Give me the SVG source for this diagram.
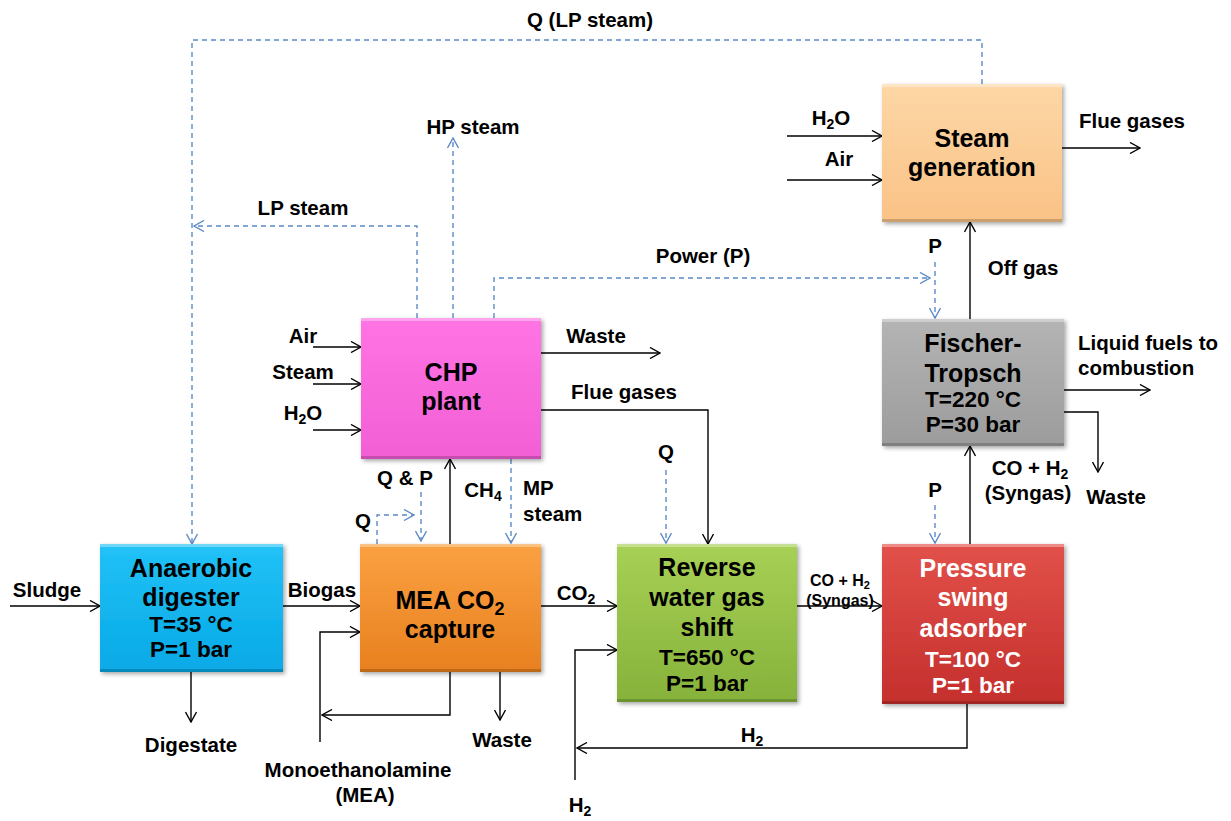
<svg xmlns="http://www.w3.org/2000/svg" width="1231" height="821" viewBox="0 0 1231 821">
<defs>
<style>
.t{font-family:"Liberation Sans",Arial,sans-serif;font-weight:bold;fill:#000;text-anchor:middle}
.bt{font-size:25px}
.pt{font-size:22.5px}
.lb{font-size:20.5px}
.sm{font-size:16px}
.w{fill:#fff}
.c{fill:none;stroke:#000;stroke-width:1.4;marker-end:url(#ah)}
.d{fill:none;stroke:#5b8ac6;stroke-width:1.4;stroke-dasharray:5 4;marker-end:url(#ahb)}
.hl{fill:#fff;opacity:0.35}
.dk{fill:#000;opacity:0.18}
</style>
<marker id="ah" markerUnits="userSpaceOnUse" viewBox="0 0 12 12" refX="11" refY="6" markerWidth="12" markerHeight="12" orient="auto">
<path d="M1,0.5 L11,6 L1,11.5" fill="none" stroke="#000" stroke-width="1.4"/>
</marker>
<marker id="ahb" markerUnits="userSpaceOnUse" viewBox="0 0 12 12" refX="11" refY="6" markerWidth="12" markerHeight="12" orient="auto">
<path d="M1,0.5 L11,6 L1,11.5" fill="none" stroke="#5b8ac6" stroke-width="1.4"/>
</marker>
<filter id="sh" x="-10%" y="-10%" width="125%" height="125%">
<feDropShadow dx="2" dy="2" stdDeviation="2" flood-color="#000" flood-opacity="0.35"/>
</filter>
<linearGradient id="gBlue" x1="0" y1="0" x2="0" y2="1"><stop offset="0" stop-color="#22c2f7"/><stop offset="1" stop-color="#06a9e6"/></linearGradient>
<linearGradient id="gOrange" x1="0" y1="0" x2="0" y2="1"><stop offset="0" stop-color="#fba142"/><stop offset="1" stop-color="#e8801f"/></linearGradient>
<linearGradient id="gGreen" x1="0" y1="0" x2="0" y2="1"><stop offset="0" stop-color="#a7d055"/><stop offset="1" stop-color="#86b23b"/></linearGradient>
<linearGradient id="gRed" x1="0" y1="0" x2="0" y2="1"><stop offset="0" stop-color="#e2514a"/><stop offset="1" stop-color="#c42f2c"/></linearGradient>
<linearGradient id="gGrey" x1="0" y1="0" x2="0" y2="1"><stop offset="0" stop-color="#b4b4b4"/><stop offset="1" stop-color="#9c9c9c"/></linearGradient>
<linearGradient id="gPeach" x1="0" y1="0" x2="0" y2="1"><stop offset="0" stop-color="#fdd7a6"/><stop offset="1" stop-color="#fac286"/></linearGradient>
<linearGradient id="gPink" x1="0" y1="0" x2="0" y2="1"><stop offset="0" stop-color="#ff74e4"/><stop offset="1" stop-color="#f25fd5"/></linearGradient>
</defs>

<g id="connectors">
<path class="d" d="M982,84 V40 H192 V544"/>
<path class="d" d="M417,318 V226 H194"/>
<path class="d" d="M453,318 V138"/>
<path class="d" d="M494,318 V278 H930"/>
<path class="d" d="M935,262 V318"/>
<path class="d" d="M421,492 V541"/>
<path class="d" d="M377,544 V515 H414"/>
<path class="d" d="M511,459 V543"/>
<path class="d" d="M666,470 V543"/>
<path class="d" d="M935,505 V543"/>
<path class="c" d="M10,606 H100"/>
<path class="c" d="M283,606 H360"/>
<path class="c" d="M541,606 H617"/>
<path class="c" d="M797,606 H882"/>
<path class="c" d="M320,742 V632 H360"/>
<path class="c" d="M450,672 V715 H322"/>
<path class="c" d="M500,672 V720"/>
<path class="c" d="M191,672 V722"/>
<path class="c" d="M575,780 V650 H617"/>
<path class="c" d="M967,704 V748 H577"/>
<path class="c" d="M970,544 V446"/>
<path class="c" d="M970,319 V222"/>
<path class="c" d="M1064,390 H1150"/>
<path class="c" d="M1064,412 H1098 V472"/>
<path class="c" d="M787,136 H882"/>
<path class="c" d="M787,180 H882"/>
<path class="c" d="M1062,148 H1140"/>
<path class="c" d="M313,347 H361"/>
<path class="c" d="M313,384 H361"/>
<path class="c" d="M313,430 H361"/>
<path class="c" d="M541,353 H660"/>
<path class="c" d="M541,410 H708 V544"/>
<path class="c" d="M450,544 V459"/>
</g>

<g id="labels">
<text class="t lb" x="590" y="27">Q (LP steam)</text>
<text class="t lb" x="473" y="134">HP steam</text>
<text class="t lb" x="303" y="215">LP steam</text>
<text class="t lb" x="703" y="263">Power (P)</text>
<text class="t lb" x="935" y="253">P</text>
<text class="t lb" x="1023" y="275">Off gas</text>
<text class="t lb" x="831" y="125">H<tspan font-size="14" dy="4">2</tspan><tspan dy="-4">O</tspan></text>
<text class="t lb" x="839" y="166">Air</text>
<text class="t lb" x="1132" y="128">Flue gases</text>
<text class="t lb" x="303" y="343">Air</text>
<text class="t lb" x="303" y="379">Steam</text>
<text class="t lb" x="303" y="420">H<tspan font-size="14" dy="4">2</tspan><tspan dy="-4">O</tspan></text>
<text class="t lb" x="596" y="343">Waste</text>
<text class="t lb" x="624" y="399">Flue gases</text>
<text class="t lb" x="1078" y="350" style="text-anchor:start">Liquid fuels to</text>
<text class="t lb" x="1078" y="375" style="text-anchor:start">combustion</text>
<text class="t lb" x="666" y="459">Q</text>
<text class="t lb" x="405" y="485">Q &amp; P</text>
<text class="t lb" x="483" y="497">CH<tspan font-size="14" dy="4">4</tspan></text>
<text class="t lb" x="523" y="495" style="text-anchor:start">MP</text>
<text class="t lb" x="523" y="521" style="text-anchor:start">steam</text>
<text class="t lb" x="363" y="528">Q</text>
<text class="t lb" x="1030" y="475">CO + H<tspan font-size="14" dy="4">2</tspan></text>
<text class="t lb" x="1028" y="500">(Syngas)</text>
<text class="t lb" x="1116" y="504">Waste</text>
<text class="t lb" x="935" y="497">P</text>
<text class="t lb" x="47" y="597">Sludge</text>
<text class="t lb" x="322" y="597">Biogas</text>
<text class="t lb" x="576" y="600">CO<tspan font-size="14" dy="4">2</tspan></text>
<text class="t sm" x="840" y="586">CO + H<tspan font-size="11" dy="3">2</tspan></text>
<text class="t sm" x="840" y="606">(Syngas)</text>
<text class="t lb" x="191" y="752">Digestate</text>
<text class="t lb" x="502" y="747">Waste</text>
<text class="t lb" x="358" y="777">Monoethanolamine</text>
<text class="t lb" x="365" y="802">(MEA)</text>
<text class="t lb" x="752" y="742">H<tspan font-size="14" dy="4">2</tspan></text>
<text class="t lb" x="580" y="812">H<tspan font-size="14" dy="4">2</tspan></text>
</g>

<g id="digester">
<rect x="100" y="544" width="183" height="128" fill="url(#gBlue)" filter="url(#sh)"/>
<rect class="hl" x="100" y="544" width="183" height="3"/>
<rect class="dk" x="100" y="669" width="183" height="3"/>
<text class="t bt" x="191" y="577">Anaerobic</text>
<text class="t bt" x="191" y="606">digester</text>
<text class="t pt" x="191" y="632">T=35 °C</text>
<text class="t pt" x="191" y="657">P=1 bar</text>
</g>

<g id="mea">
<rect x="360" y="544" width="181" height="128" fill="url(#gOrange)" filter="url(#sh)"/>
<rect class="hl" x="360" y="544" width="181" height="3"/>
<rect class="dk" x="360" y="669" width="181" height="3"/>
<text class="t bt" x="450" y="609">MEA CO<tspan font-size="18" dy="6">2</tspan></text>
<text class="t bt" x="450" y="638">capture</text>
</g>

<g id="rwgs">
<rect x="617" y="544" width="180" height="158" fill="url(#gGreen)" filter="url(#sh)"/>
<rect class="hl" x="617" y="544" width="180" height="3"/>
<rect class="dk" x="617" y="699" width="180" height="3"/>
<text class="t bt" x="707" y="576">Reverse</text>
<text class="t bt" x="707" y="606">water gas</text>
<text class="t bt" x="707" y="636">shift</text>
<text class="t pt" x="707" y="665">T=650 °C</text>
<text class="t pt" x="707" y="691">P=1 bar</text>
</g>

<g id="psa">
<rect x="882" y="544" width="182" height="160" fill="url(#gRed)" filter="url(#sh)"/>
<rect class="hl" x="882" y="544" width="182" height="3"/>
<rect class="dk" x="882" y="701" width="182" height="3"/>
<text class="t bt w" x="973" y="577">Pressure</text>
<text class="t bt w" x="973" y="606">swing</text>
<text class="t bt w" x="973" y="637">adsorber</text>
<text class="t pt w" x="973" y="667">T=100 °C</text>
<text class="t pt w" x="973" y="693">P=1 bar</text>
</g>

<g id="ft">
<rect x="882" y="319" width="182" height="127" fill="url(#gGrey)" filter="url(#sh)"/>
<rect class="hl" x="882" y="319" width="182" height="3"/>
<rect class="dk" x="882" y="443" width="182" height="3"/>
<text class="t bt" x="973" y="352">Fischer-</text>
<text class="t bt" x="973" y="382">Tropsch</text>
<text class="t pt" x="973" y="407">T=220 °C</text>
<text class="t pt" x="973" y="432">P=30 bar</text>
</g>

<g id="steamgen">
<rect x="882" y="84" width="180" height="138" fill="url(#gPeach)" filter="url(#sh)"/>
<rect class="hl" x="882" y="84" width="180" height="3"/>
<rect class="dk" x="882" y="219" width="180" height="3"/>
<text class="t bt" x="972" y="147">Steam</text>
<text class="t bt" x="972" y="176">generation</text>
</g>

<g id="chp">
<rect x="361" y="318" width="180" height="141" fill="url(#gPink)" filter="url(#sh)"/>
<rect class="hl" x="361" y="318" width="180" height="3"/>
<rect class="dk" x="361" y="456" width="180" height="3"/>
<text class="t bt" x="451" y="381">CHP</text>
<text class="t bt" x="451" y="410">plant</text>
</g>
</svg>
